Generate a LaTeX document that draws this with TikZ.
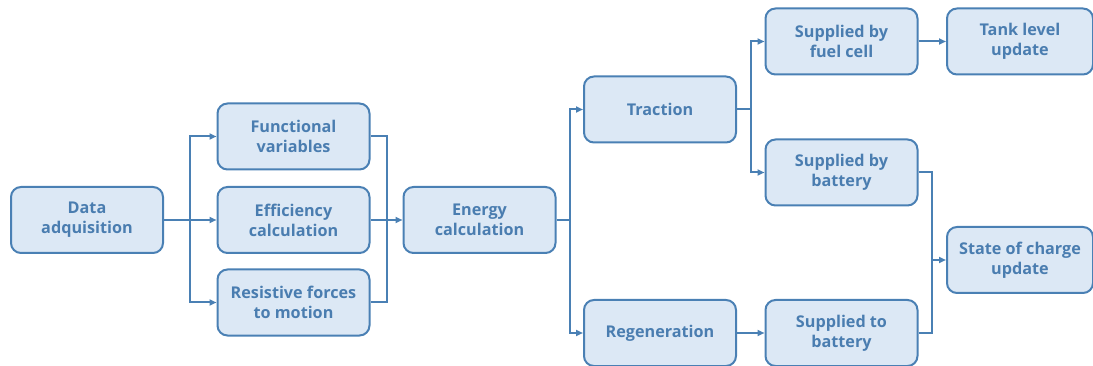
\documentclass[tikz,border=0pt]{standalone}
\usepackage{fontspec}
\setmainfont{Open Sans}
\usetikzlibrary{arrows.meta}
\definecolor{boxfill}{HTML}{DCE8F5}
\definecolor{boxline}{HTML}{4A80B4}
\definecolor{boxtext}{HTML}{4A7DB0}
\tikzset{
    mynode/.style = {rectangle, rounded corners=10pt, line width=2pt, draw=boxline, fill=boxfill,
        minimum width=152pt, minimum height=66pt, align=center, text=boxtext,
        font=\fontsize{16.2}{20}\selectfont\bfseries},
    edgen/.style = {-{Triangle[length=7pt,width=6pt]}, line width=2pt, boxline},
}
\begin{document}
\begin{tikzpicture}[x=1pt,y=-1pt]
\useasboundingbox (0,0) rectangle (1093,366);
%
\node[mynode] at (87,220) (data) {Data\\adquisition};
\node[mynode] at (293.5,136.5) (func) {Functional\\variables};
\node[mynode] at (293.5,220) (eff) {Efficiency\\calculation};
\node[mynode] at (293.5,302.5) (res) {Resistive forces\\to motion};
\node[mynode] at (479.5,220) (energy) {Energy\\calculation};
\node[mynode] at (660,109.5) (trac) {Traction};
\node[mynode] at (660,333) (regen) {Regeneration};
\node[mynode] at (841.5,41.5) (fuel) {Supplied by\\fuel cell};
\node[mynode] at (841.5,172.5) (batt) {Supplied by\\battery};
\node[mynode] at (841.5,333) (tobatt) {Supplied to\\battery};
\node[mynode,minimum width=146pt] at (1020,41.5) (tank) {Tank level\\update};
\node[mynode,minimum width=146pt] at (1020,260) (soc) {State of charge\\update};
%
\coordinate (j1) at (190,220);
\coordinate (j2) at (387,220);
\coordinate (j3) at (570,220);
\coordinate (j4) at (751,109.5);
\coordinate (j5) at (932,260);
%
\draw[edgen,-] (data) -- (j1);
\draw[edgen] (j1) |- (func);
\draw[edgen] (j1) -- (eff);
\draw[edgen] (j1) |- (res);
\draw[edgen,-] (func) -| (j2);
\draw[edgen,-] (res) -| (j2);
\draw[edgen] (eff) -- (energy);
\draw[edgen,-] (energy) -- (j3);
\draw[edgen] (j3) |- (trac);
\draw[edgen] (j3) |- (regen);
\draw[edgen,-] (trac) -- (j4);
\draw[edgen] (j4) |- (fuel);
\draw[edgen] (j4) |- (batt);
\draw[edgen] (fuel) -- (tank);
\draw[edgen] (regen) -- (tobatt);
\draw[edgen,-] (batt) -| (j5);
\draw[edgen,-] (tobatt) -| (j5);
\draw[edgen] (j5) -- (soc);
\end{tikzpicture}
\end{document}
